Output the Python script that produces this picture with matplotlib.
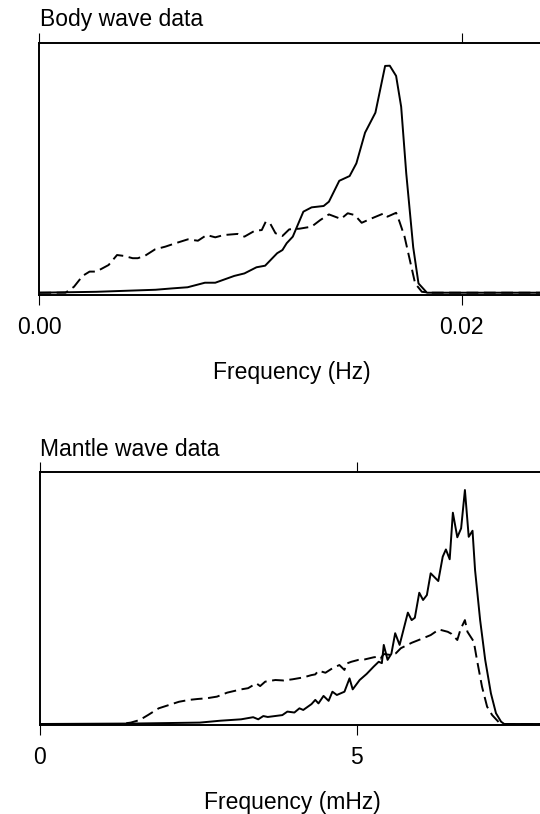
import matplotlib
matplotlib.use("Agg")
import matplotlib.pyplot as plt

plt.rcParams['font.family'] = ['Liberation Sans', 'DejaVu Sans']
plt.rcParams['lines.scale_dashes'] = False

# body wave spectra, frequency in Hz, amplitude normalised to the solid peak
body_f_solid = [0, 0.0027, 0.0055, 0.00629, 0.00702, 0.00784, 0.00833, 0.00923, 0.00971, 0.01028,
                0.01069, 0.01126, 0.01151, 0.01171, 0.01200, 0.01210, 0.01250, 0.01289, 0.01346, 0.01371,
                0.01420, 0.01469, 0.01501, 0.01542, 0.01591, 0.01637, 0.01659, 0.01689, 0.01713, 0.01737,
                0.01770, 0.01795, 0.01835, 0.0240]
body_a_solid = [0, 0.004, 0.013, 0.019, 0.024, 0.044, 0.044, 0.074, 0.085, 0.112,
                0.119, 0.174, 0.188, 0.218, 0.247, 0.269, 0.357, 0.376, 0.382, 0.401,
                0.493, 0.514, 0.570, 0.705, 0.793, 0.999, 1.0, 0.955, 0.819, 0.526,
                0.200, 0.041, 0.0, 0.0]

body_f_dash = [0, 0.00124, 0.00164, 0.00205, 0.00238, 0.00270, 0.00328, 0.00368, 0.00401, 0.00442,
               0.00466, 0.00499, 0.00548, 0.00597, 0.00645, 0.00703, 0.00751, 0.00792, 0.00833, 0.00873,
               0.00939, 0.00971, 0.01020, 0.01053, 0.01072, 0.01094, 0.01118, 0.01151, 0.01183, 0.01232,
               0.01289, 0.01330, 0.01371, 0.01428, 0.01460, 0.01493, 0.01526, 0.01575, 0.01632, 0.01648,
               0.01689, 0.01705, 0.01729, 0.01754, 0.01779, 0.01811, 0.0185, 0.0240]
body_a_dash = [0, 0, 0.026, 0.074, 0.093, 0.093, 0.122, 0.166, 0.162, 0.152,
               0.152, 0.162, 0.191, 0.203, 0.218, 0.235, 0.229, 0.254, 0.244, 0.254,
               0.259, 0.247, 0.273, 0.276, 0.313, 0.303, 0.262, 0.250, 0.279, 0.282,
               0.291, 0.320, 0.345, 0.325, 0.350, 0.342, 0.308, 0.328, 0.350, 0.335,
               0.352, 0.313, 0.247, 0.144, 0.041, 0.004, 0, 0]

# mantle wave spectra, frequency in mHz
mantle_f_solid = [0, 1.5, 2.53, 2.85, 3.18, 3.37, 3.45, 3.53, 3.60, 3.83,
                  3.91, 4.02, 4.10, 4.16, 4.29, 4.35, 4.40, 4.48, 4.56, 4.62,
                  4.69, 4.81, 4.89, 4.94, 5.05, 5.16, 5.27, 5.35, 5.40, 5.43,
                  5.49, 5.55, 5.61, 5.68, 5.81, 5.87, 5.92, 5.99, 6.05, 6.11,
                  6.17, 6.29, 6.36, 6.41, 6.47, 6.52, 6.59, 6.65, 6.71, 6.77,
                  6.83, 6.87, 6.95, 7.03, 7.12, 7.20, 7.28, 7.33, 7.97]
mantle_a_solid = [0, 0.002, 0.006, 0.014, 0.020, 0.029, 0.020, 0.034, 0.030, 0.038,
                  0.053, 0.049, 0.067, 0.060, 0.085, 0.103, 0.088, 0.120, 0.099, 0.138,
                  0.124, 0.138, 0.195, 0.148, 0.188, 0.214, 0.245, 0.266, 0.260, 0.338,
                  0.274, 0.300, 0.388, 0.338, 0.476, 0.444, 0.454, 0.561, 0.530, 0.551,
                  0.644, 0.611, 0.715, 0.746, 0.704, 0.903, 0.798, 0.836, 1.0, 0.800,
                  0.826, 0.658, 0.444, 0.274, 0.131, 0.046, 0.010, 0, 0]

mantle_f_dash = [0, 1.28, 1.44, 1.58, 1.71, 1.88, 2.04, 2.20, 2.36, 2.50,
                 2.64, 2.80, 2.96, 3.18, 3.29, 3.42, 3.48, 3.56, 3.72, 3.85,
                 3.99, 4.16, 4.29, 4.35, 4.40, 4.51, 4.62, 4.73, 4.81, 4.84,
                 4.92, 5.03, 5.13, 5.27, 5.35, 5.38, 5.43, 5.54, 5.62, 5.70,
                 5.87, 6.00, 6.17, 6.30, 6.44, 6.50, 6.59, 6.64, 6.71, 6.75,
                 6.85, 6.90, 6.98, 7.06, 7.14, 7.25, 7.30, 7.97]
mantle_a_dash = [0, 0, 0.006, 0.017, 0.038, 0.067, 0.081, 0.095, 0.103, 0.107,
                 0.110, 0.117, 0.134, 0.148, 0.153, 0.174, 0.162, 0.181, 0.188, 0.186,
                 0.191, 0.199, 0.209, 0.212, 0.228, 0.219, 0.238, 0.252, 0.231, 0.258,
                 0.266, 0.274, 0.276, 0.285, 0.288, 0.280, 0.299, 0.295, 0.302, 0.324,
                 0.347, 0.361, 0.380, 0.404, 0.394, 0.385, 0.359, 0.404, 0.444, 0.394,
                 0.352, 0.274, 0.159, 0.074, 0.038, 0.006, 0, 0]

body_ticks = [0, 0.02]
body_ticklabels = ["0.00", "0.02"]
mantle_ticks = [0, 5]
mantle_ticklabels = ["0", "5"]

W, H = 540, 814
FS = 16.5
fig = plt.figure(figsize=(W / 100, H / 100), dpi=100)


def panel(left, top, right, bottom):
    # box given in pixels from the top-left corner
    return fig.add_axes([left / W, 1 - bottom / H, (right - left) / W, (bottom - top) / H])


def style(ax, ticks, labels, xmax, ylim, xlabel):
    ax.set_xlim(0, xmax)
    ax.set_ylim(*ylim)
    ax.set_xticks(ticks)
    ax.set_xticklabels(labels)
    ax.set_yticks([])
    ax.spines['right'].set_visible(False)
    for s in ['left', 'top', 'bottom']:
        ax.spines[s].set_linewidth(1.4)
    ax.tick_params(axis='x', direction='out', top=True, bottom=True, labeltop=False,
                   length=7.2, width=0.8, labelsize=FS, pad=8)
    ax.set_xlabel(xlabel, fontsize=FS, labelpad=16)


ax1 = panel(39.3, 43, 545, 295)
ax1.plot(body_f_solid, body_a_solid, color='black', lw=1.4)
ax1.plot(body_f_dash, body_a_dash, color='black', lw=1.4, dashes=(8.5, 4))
style(ax1, body_ticks, body_ticklabels, 0.02 * (545 - 39.3) / 422.5, (-0.0101, 1.100), "Frequency (Hz)")

ax2 = panel(39.5, 472, 545, 725)
ax2.plot(mantle_f_solid, mantle_a_solid, color='black', lw=1.4)
ax2.plot(mantle_f_dash, mantle_a_dash, color='black', lw=1.4, dashes=(8.5, 4))
style(ax2, mantle_ticks, mantle_ticklabels, (545 - 39.5) / 63.4, (-0.0043, 1.077), "Frequency (mHz)")

fig.text(39.5 / W, 1 - 26 / H, "Body wave data", fontsize=FS, va='baseline', ha='left')
fig.text(39.5 / W, 1 - 456 / H, "Mantle wave data", fontsize=FS, va='baseline', ha='left')

fig.savefig("out.png", dpi=100)
